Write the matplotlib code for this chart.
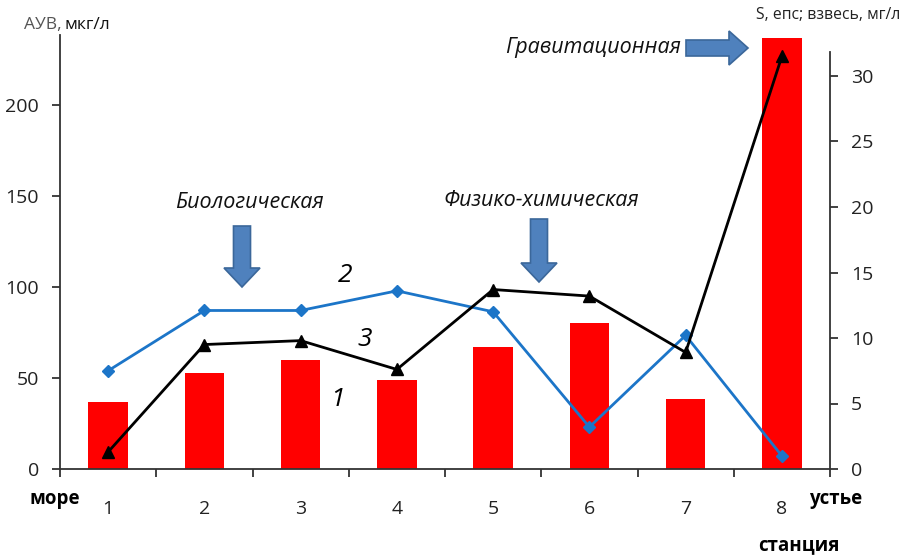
import numpy as np
import matplotlib.pyplot as plt
from matplotlib.patches import FancyArrow

plt.rcParams['font.family'] = ['Open Sans', 'DejaVu Sans']

# станции от моря к устью
stations = [1, 2, 3, 4, 5, 6, 7, 8]
# 1 - АУВ, мкг/л (столбцы, левая ось)
auv = [37, 53, 60, 49, 67, 80, 38.5, 237]
# 2 - соленость S, епс (правая ось)
salinity = [7.5, 12.1, 12.1, 13.6, 12.0, 3.2, 10.2, 1.0]
# 3 - взвесь, мг/л (правая ось)
suspended = [1.3, 9.5, 9.8, 7.6, 13.7, 13.2, 8.9, 31.5]

fig = plt.figure(figsize=(9.05, 5.55), dpi=100)
ax = fig.add_axes([60/905, 1-469/555, 770/905, 434/555])
ax2 = ax.twinx()

ax.bar(stations, auv, width=0.41, color='#ff0000', zorder=1)
ax2.plot(stations, salinity, color='#1c75c8', lw=2, marker='D', ms=6, zorder=3)
ax2.plot(stations, suspended, color='black', lw=2, marker='^', ms=9, zorder=3)

ax.set_xlim(0.5, 8.5)
ax.set_ylim(0, 238.5)
ax2.set_ylim(0, 434/13.1)

for a in (ax, ax2):
    a.spines['top'].set_visible(False)
    for s in a.spines.values():
        s.set_color('#333333')
        s.set_linewidth(1.3)
ax.spines['right'].set_visible(False)
ax2.spines['left'].set_visible(False)
ax2.spines['bottom'].set_visible(False)
ax2.spines['right'].set_bounds(0, 31.8)

ax.set_yticks([0, 50, 100, 150, 200])
ax2.set_yticks([0, 5, 10, 15, 20, 25, 30])
for a in (ax, ax2):
    a.tick_params(axis='y', direction='out', length=6, width=1.3, pad=9, labelsize=14,
                  colors='#333333', labelcolor='#222222')
ax.set_xticks(stations)
ax.set_xticks(np.arange(0.5, 9, 1), minor=True)
ax.tick_params(axis='x', which='major', length=0, pad=22, labelsize=14, labelcolor='#222222')
ax.tick_params(axis='x', which='minor', direction='out', length=6, width=1.3, colors='#333333')
ax2.patch.set_visible(False)

# подписи осей
fig.text(24/905, 1-25/555, 'АУВ,', fontsize=12.5, color='#555555', va='center')
fig.text(64/905, 1-25/555, 'мкг/л', fontsize=12.5, color='#111111', va='center')
fig.text(900/905, 1-15/555, 'S, епс; взвесь, мг/л', fontsize=11.3, color='#222222',
         ha='right', va='center')
fig.text(55/905, 1-499/555, 'море', fontsize=13.5, fontweight='bold', ha='center', va='center')
fig.text(836/905, 1-499/555, 'устье', fontsize=13.5, fontweight='bold', ha='center', va='center')
fig.text(799/905, 1-545/555, 'станция', fontsize=13.5, fontweight='bold', ha='center', va='center')

# зоны седиментации
fig.text(249/905, 1-203/555, 'Биологическая', fontsize=15.5, style='italic', ha='center', va='center', color='#111111')
fig.text(541/905, 1-200/555, 'Физико-химическая', fontsize=15.5, style='italic', ha='center', va='center', color='#111111')
fig.text(593/905, 1-47/555, 'Гравитационная', fontsize=15.5, style='italic', ha='center', va='center', color='#111111')

# номера кривых
for txt, x, y in [('2', 345, 275), ('3', 365, 340), ('1', 337, 400)]:
    fig.text(x/905, 1-y/555, txt, fontsize=19, style='italic', ha='center', va='center')


def block_arrow(x0, y0, x1, y1, w, hw, hl):
    # координаты в пикселях, перевод в дюймы
    H = 5.55
    arr = FancyArrow(x0/100, H-y0/100, (x1-x0)/100, -(y1-y0)/100,
                     width=w/100, head_width=hw/100, head_length=hl/100,
                     length_includes_head=True, transform=fig.dpi_scale_trans,
                     facecolor='#4f81bd', edgecolor='#3b679a', lw=1.2, zorder=5)
    fig.patches.append(arr)


block_arrow(242, 226, 242, 287, 17, 36, 19)
block_arrow(539, 219, 539, 282, 17, 36, 19)
block_arrow(686, 48, 748, 48, 16, 34, 19)

fig.savefig('out.png', dpi=100, facecolor='white')
